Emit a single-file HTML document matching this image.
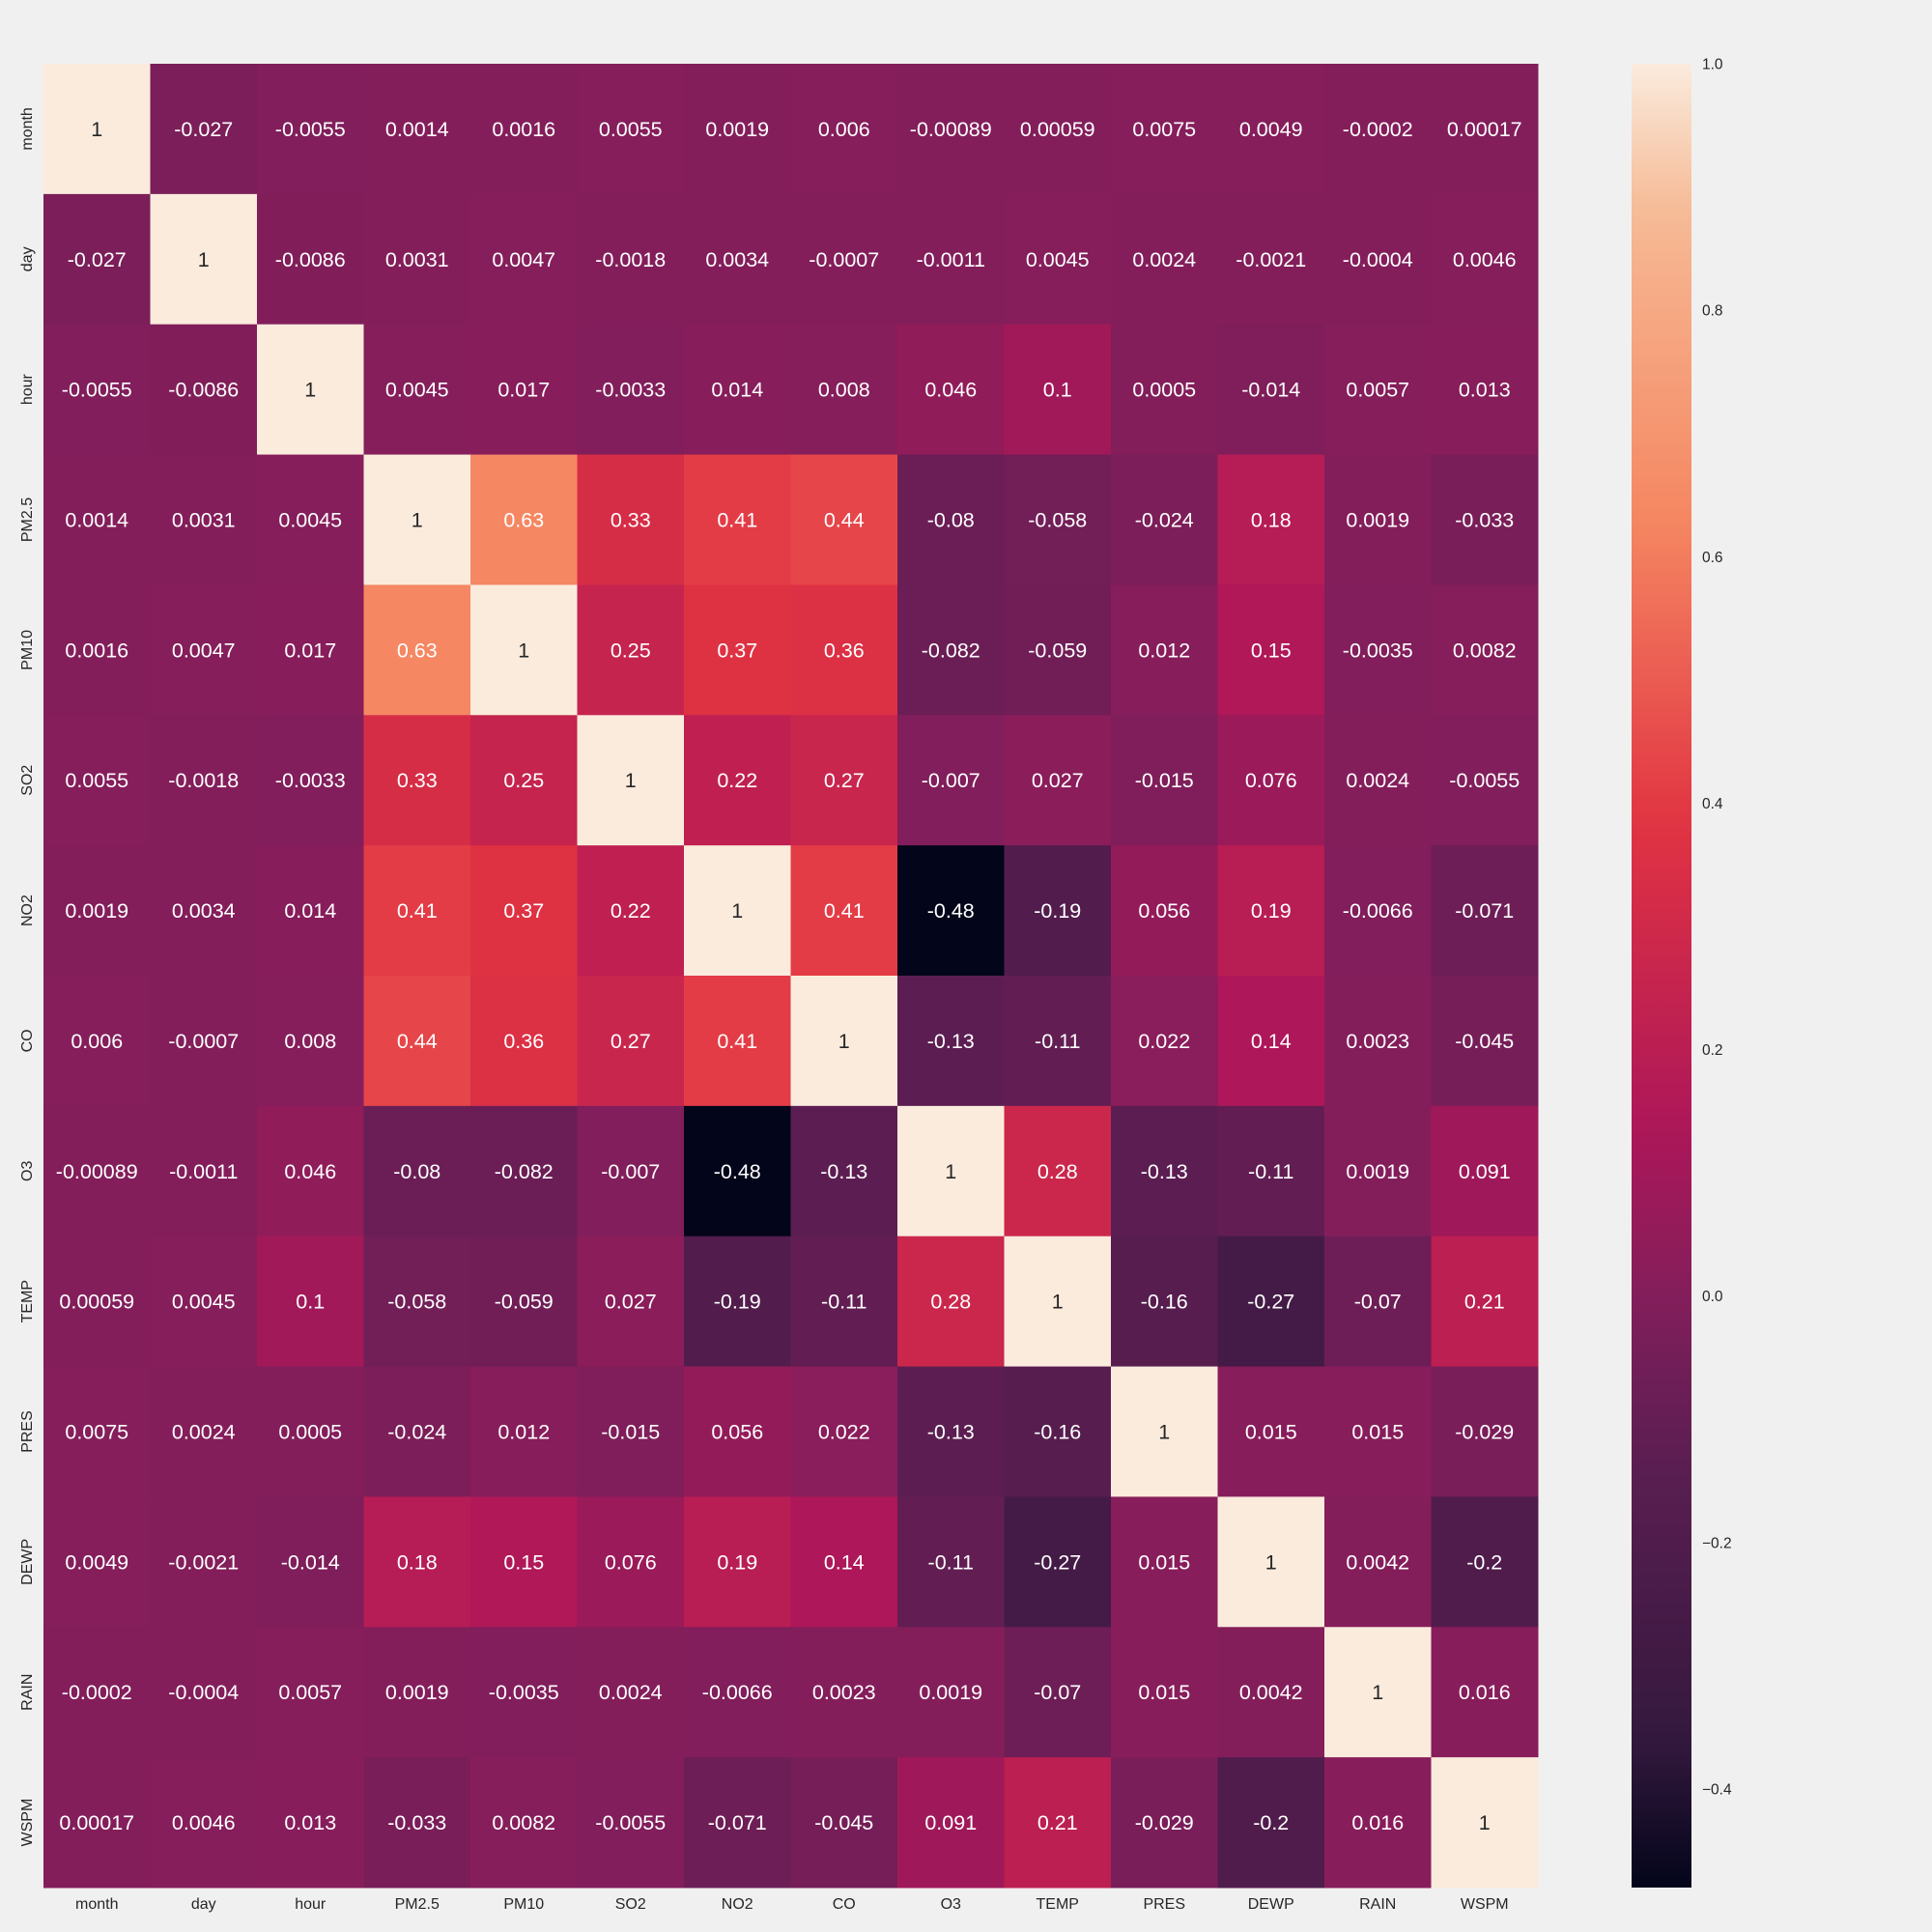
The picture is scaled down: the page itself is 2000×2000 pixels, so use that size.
<!DOCTYPE html>
<html><head><meta charset="utf-8"><style>
html,body{margin:0;padding:0;background:#f0f0f0;}
svg{display:block;font-family:"Liberation Sans","DejaVu Sans",sans-serif;}
</style></head><body>
<svg id="chart" width="2000" height="2000" viewBox="0 0 2000 2000" xmlns="http://www.w3.org/2000/svg">
<rect x="0" y="0" width="2000" height="2000" fill="#f0f0f0"/>
<g id="cells"></g>
<g id="xlabels"></g>
<g id="ylabels"></g>
<defs><linearGradient id="cbgrad" x1="0" y1="1" x2="0" y2="0"></linearGradient></defs>
<rect id="cbar" x="1689" y="66" width="62" height="1888" fill="url(#cbgrad)"/>
<g id="cbticks"></g>
</svg>
<script>
const labels = ["month","day","hour","PM2.5","PM10","SO2","NO2","CO","O3","TEMP","PRES","DEWP","RAIN","WSPM"];
const row0 = [1,-0.027,-0.0055,0.0014,0.0016,0.0055,0.0019,0.006,-0.00089,0.00059,0.0075,0.0049,-0.0002,0.00017];
const row1 = [-0.027,1,-0.0086,0.0031,0.0047,-0.0018,0.0034,-0.0007,-0.0011,0.0045,0.0024,-0.0021,-0.0004,0.0046];
const row2 = [-0.0055,-0.0086,1,0.0045,0.017,-0.0033,0.014,0.008,0.046,0.1,0.0005,-0.014,0.0057,0.013];
const row3 = [0.0014,0.0031,0.0045,1,0.63,0.33,0.41,0.44,-0.08,-0.058,-0.024,0.18,0.0019,-0.033];
const row4 = [0.0016,0.0047,0.017,0.63,1,0.25,0.37,0.36,-0.082,-0.059,0.012,0.15,-0.0035,0.0082];
const row5 = [0.0055,-0.0018,-0.0033,0.33,0.25,1,0.22,0.27,-0.007,0.027,-0.015,0.076,0.0024,-0.0055];
const row6 = [0.0019,0.0034,0.014,0.41,0.37,0.22,1,0.41,-0.48,-0.19,0.056,0.19,-0.0066,-0.071];
const row7 = [0.006,-0.0007,0.008,0.44,0.36,0.27,0.41,1,-0.13,-0.11,0.022,0.14,0.0023,-0.045];
const row8 = [-0.00089,-0.0011,0.046,-0.08,-0.082,-0.007,-0.48,-0.13,1,0.28,-0.13,-0.11,0.0019,0.091];
const row9 = [0.00059,0.0045,0.1,-0.058,-0.059,0.027,-0.19,-0.11,0.28,1,-0.16,-0.27,-0.07,0.21];
const row10 = [0.0075,0.0024,0.0005,-0.024,0.012,-0.015,0.056,0.022,-0.13,-0.16,1,0.015,0.015,-0.029];
const row11 = [0.0049,-0.0021,-0.014,0.18,0.15,0.076,0.19,0.14,-0.11,-0.27,0.015,1,0.0042,-0.2];
const row12 = [-0.0002,-0.0004,0.0057,0.0019,-0.0035,0.0024,-0.0066,0.0023,0.0019,-0.07,0.015,0.0042,1,0.016];
const row13 = [0.00017,0.0046,0.013,-0.033,0.0082,-0.0055,-0.071,-0.045,0.091,0.21,-0.029,-0.2,0.016,1];
const matrix = [row0,row1,row2,row3,row4,row5,row6,row7,row8,row9,row10,row11,row12,row13];
const cbTicks = [-0.4,-0.2,0.0,0.2,0.4,0.6,0.8,1.0];

const NS="http://www.w3.org/2000/svg";
const X0=45,X1=1592,Y0=66,Y1=1954;
const n=labels.length, cw=(X1-X0)/n, ch=(Y1-Y0)/n;
let vmin=Infinity,vmax=-Infinity;
matrix.forEach(r=>r.forEach(v=>{vmin=Math.min(vmin,v);vmax=Math.max(vmax,v);}));
const stopPos=[0,0.083,0.236,0.324,0.417,0.583,0.75,0.917,1];
const stopCol=[[3,5,26],[53,25,62],[92,30,82],[131,30,91],[173,23,89],[225,51,66],[245,135,98],[246,185,148],[250,235,221]];
function cmap(t){t=Math.max(0,Math.min(1,t));let i=0;while(i<stopPos.length-2&&t>stopPos[i+1])i++;
 const f=(t-stopPos[i])/(stopPos[i+1]-stopPos[i]);
 return stopCol[i].map((c,k)=>Math.round(c+(stopCol[i+1][k]-c)*f));}
function colorOf(v){return cmap((v-vmin)/(vmax-vmin));}
function xPos(j){return X0+j*cw;}
function yPos(i){return Y0+i*ch;}
function fmt(v){return String(Number(v.toPrecision(2)));}
function lum(c){const l=c.map(x=>{x/=255;return x<=0.03928?x/12.92:Math.pow((x+0.055)/1.055,2.4);});return 0.2126*l[0]+0.7152*l[1]+0.0722*l[2];}
const cells=document.getElementById('cells');
for(let i=0;i<n;i++)for(let j=0;j<n;j++){
 const v=matrix[i][j],c=colorOf(v);
 const r=document.createElementNS(NS,'rect');
 r.setAttribute('x',xPos(j));r.setAttribute('y',yPos(i));r.setAttribute('width',cw+0.5);r.setAttribute('height',ch+0.5);
 r.setAttribute('fill',`rgb(${c[0]},${c[1]},${c[2]})`);
 
 
 cells.appendChild(r);
 const t=document.createElementNS(NS,'text');
 t.setAttribute('x',xPos(j)+cw/2);t.setAttribute('y',yPos(i)+ch/2+7.5);
 t.setAttribute('text-anchor','middle');t.setAttribute('font-size','21.5');
 t.setAttribute('fill',lum(c)>0.408?'#262626':'#ffffff');
 t.textContent=fmt(v);
 
 
 cells.appendChild(t);
}
const xl=document.getElementById('xlabels'),yl=document.getElementById('ylabels');
labels.forEach((l,k)=>{
 const t=document.createElementNS(NS,'text');
 t.setAttribute('x',xPos(k)+cw/2);t.setAttribute('y',1976);t.setAttribute('text-anchor','middle');
 t.setAttribute('font-size','16');t.setAttribute('fill','#262626');t.textContent=l;
 
 
 xl.appendChild(t);
 const u=document.createElementNS(NS,'text');const cy=yPos(k)+ch/2;
 u.setAttribute('x',33);u.setAttribute('y',cy);u.setAttribute('text-anchor','middle');
 u.setAttribute('transform',`rotate(-90 33 ${cy})`);
 u.setAttribute('font-size','16');u.setAttribute('fill','#262626');u.textContent=l;
 
 
 yl.appendChild(u);
});
const g=document.getElementById('cbgrad');
for(let k=0;k<=40;k++){const c=cmap(k/40);const s=document.createElementNS(NS,'stop');
 s.setAttribute('offset',(k/40));s.setAttribute('stop-color',`rgb(${c[0]},${c[1]},${c[2]})`);g.appendChild(s);}
function cbY(v){return Y1-(v-vmin)/(vmax-vmin)*(Y1-Y0);}
const cbt=document.getElementById('cbticks');
cbTicks.forEach(v=>{
 const t=document.createElementNS(NS,'text');
 t.setAttribute('x',1762);t.setAttribute('y',cbY(v)+5.5);t.setAttribute('font-size','15.5');t.setAttribute('fill','#262626');
 t.textContent=(v<0?'\u2212':'')+Math.abs(v).toFixed(1);
 
 
 cbt.appendChild(t);
});
</script>
</body></html>
